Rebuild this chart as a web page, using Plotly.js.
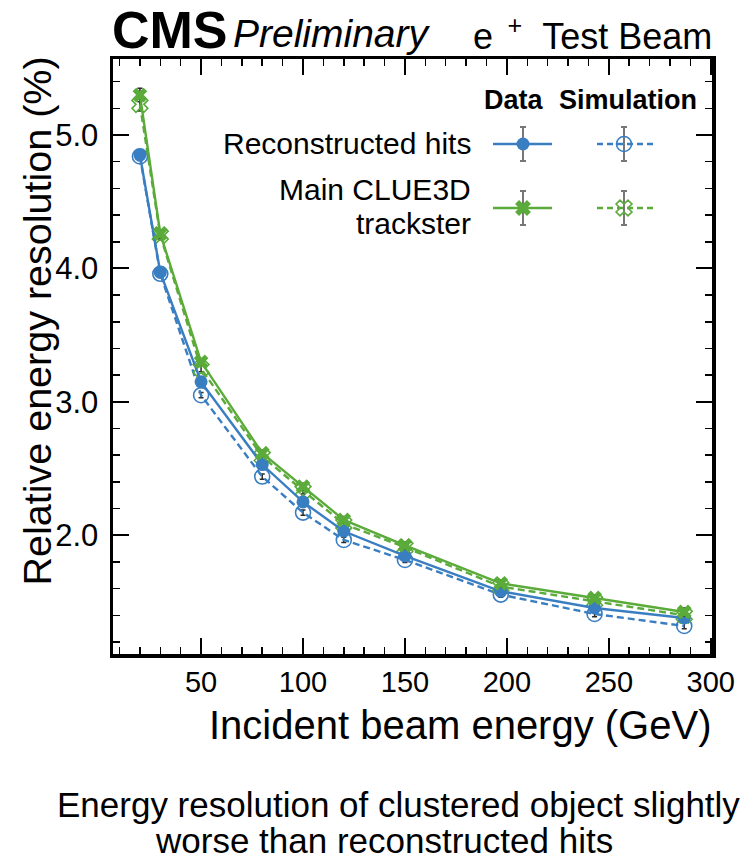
<!DOCTYPE html>
<html>
<head>
<meta charset="utf-8">
<script src="https://cdn.plot.ly/plotly-3.0.1.min.js"></script>
<style>
  html, body { margin: 0; padding: 0; background: #ffffff; }
  #chart { width: 744px; height: 860px; }
</style>
</head>
<body>
<div id="chart"></div>
<script>
// ---- data ----
const energies = [20, 30, 50, 80, 100, 120, 150, 197, 243, 287];
const recoData    = [4.85, 3.97, 3.15, 2.53, 2.25, 2.03, 1.845, 1.58, 1.455, 1.38];
const recoDataErr = [0.03, 0.025, 0.02, 0.02, 0.02, 0.02, 0.02, 0.02, 0.02, 0.02];
const recoSim     = [4.84, 3.96, 3.05, 2.44, 2.17, 1.965, 1.815, 1.555, 1.41, 1.32];
const recoSimErr  = [0.03, 0.025, 0.02, 0.02, 0.02, 0.02, 0.02, 0.02, 0.02, 0.02];
const clueData    = [5.30, 4.26, 3.30, 2.615, 2.365, 2.115, 1.925, 1.64, 1.53, 1.425];
const clueDataErr = [0.05, 0.03, 0.025, 0.025, 0.025, 0.025, 0.025, 0.025, 0.025, 0.03];
const clueSim     = [5.23, 4.25, 3.25, 2.59, 2.335, 2.085, 1.91, 1.615, 1.505, 1.40];
const clueSimErr  = [0.05, 0.03, 0.025, 0.025, 0.025, 0.025, 0.025, 0.025, 0.025, 0.03];

const seriesLabels = ["Reconstructed hits", "Main CLUE3D", "trackster"];
const columnHeads = ["Data", "Simulation"];
const xTitle = "Incident beam energy (GeV)";
const yTitle = "Relative energy resolution (%)";
const captionLines = ["Energy resolution of clustered object slightly", "worse than reconstructed hits"];

// ---- styles ----
const BLUE = "#3a7ec2";
const GREEN = "#5aab3a";
const ERRC = "#2a2a2a";
const FONT = "Liberation Sans, Arial, Helvetica, sans-serif";

// plot area in pixels
const L = 113, R = 712, T = 59, B = 654;
const px = X => (X - L) / (R - L);
const py = Y => (B - Y) / (B - T);

function errObj(arr, color, th, w) {
  return {type: "data", array: arr, visible: true, color: color, thickness: th, width: w};
}

const traces = [
  {x: energies, y: recoSim, mode: "lines+markers", name: "reco sim",
   line: {color: BLUE, width: 2.4, dash: "7px,4px"},
   marker: {symbol: "circle-open", size: 15, color: BLUE, line: {width: 1.6, color: BLUE}},
   error_y: errObj(recoSimErr, ERRC, 1.5, 2.5)},
  {x: energies, y: clueSim, mode: "lines+markers", name: "clue sim",
   line: {color: GREEN, width: 2.4, dash: "7px,4px"},
   marker: {symbol: "x-open", size: 14, color: GREEN, line: {width: 1.6, color: GREEN}},
   error_y: errObj(clueSimErr, ERRC, 1.5, 2.5)},
  {x: energies, y: recoData, mode: "lines+markers", name: "reco data",
   line: {color: BLUE, width: 2.4},
   marker: {symbol: "circle", size: 13, color: BLUE},
   error_y: errObj(recoDataErr, ERRC, 1.5, 2.5)},
  {x: energies, y: clueData, mode: "lines+markers", name: "clue data",
   line: {color: GREEN, width: 2.4},
   marker: {symbol: "x", size: 13, color: GREEN, line: {width: 0}},
   error_y: errObj(clueDataErr, ERRC, 1.5, 2.5)}
];

// ---- custom legend samples on an overlay axis in pixel units ----
const legRows = [144, 208];
const legCols = [{x0: 493, x1: 552, xm: 523}, {x0: 597, x1: 653, xm: 624}];
const legStyles = [
  [{c: BLUE, sym: "circle", size: 13, dash: "solid"}, {c: BLUE, sym: "circle-open", size: 15, dash: "6px,4px"}],
  [{c: GREEN, sym: "x", size: 14, dash: "solid"}, {c: GREEN, sym: "x-open", size: 14, dash: "6px,4px"}]
];
legRows.forEach((yr, i) => {
  legCols.forEach((col, j) => {
    const s = legStyles[i][j];
    traces.push({x: [col.x0, col.x1], y: [yr, yr], xaxis: "x2", yaxis: "y2", mode: "lines",
      line: {color: s.c, width: 2.4, dash: s.dash}, hoverinfo: "skip", cliponaxis: false});
    traces.push({x: [col.xm], y: [yr], xaxis: "x2", yaxis: "y2", mode: "markers",
      marker: {symbol: s.sym, size: s.size, color: s.c, line: {width: s.sym.endsWith("open") ? 1.6 : 0, color: s.c}},
      error_y: {type: "data", array: [17], visible: true, color: "#777777", thickness: 2, width: 3},
      hoverinfo: "skip", cliponaxis: false});
  });
});

function ann(text, X, Y, xa, ya, size, extra) {
  return Object.assign({text: text, x: px(X), y: py(Y), xref: "paper", yref: "paper",
    xanchor: xa, yanchor: ya, showarrow: false,
    font: {family: FONT, size: size, color: "#000"}}, extra || {});
}

const annotations = [
  ann("<b>CMS</b>", 110, 30, "left", "middle", 52),
  ann("<i>Preliminary</i>", 231, 34, "left", "middle", 39),
  ann("e\u2009\u2009<sup>+</sup>\u00A0\u00A0Test Beam", 714, 34, "right", "middle", 36),
  ann("<b>" + columnHeads[0] + "</b>", 514, 100, "center", "middle", 27),
  ann("<b>" + columnHeads[1] + "</b>", 628, 100, "center", "middle", 27),
  ann(seriesLabels[0], 473, 143, "right", "middle", 30),
  ann(seriesLabels[1], 473, 189, "right", "middle", 30),
  ann(seriesLabels[2], 473, 223, "right", "middle", 30),
  // axis titles (aligned to the axis ends, as in the reference)
  ann(xTitle, 713, 725, "right", "middle", 40),
  ann(yTitle, 36, 55, "center", "top", 39.5, {textangle: -90}),
  ann(captionLines[0], 398, 804, "center", "middle", 35),
  ann(captionLines[1], 384, 840, "center", "middle", 35)
];

const axisCommon = {
  showline: true, linecolor: "#000", linewidth: 3.5, mirror: "allticks",
  ticks: "inside", ticklen: 16, tickwidth: 2, tickcolor: "#000",
  showgrid: false, zeroline: false,
  tickfont: {family: FONT, size: 29, color: "#000"}
};

const layout = {
  width: 744, height: 860,
  margin: {l: L, r: 744 - R, t: T, b: 860 - B},
  paper_bgcolor: "#fff", plot_bgcolor: "#fff",
  showlegend: false,
  font: {family: FONT, color: "#000"},
  xaxis: Object.assign({}, axisCommon, {
    range: [6.8, 300.6], tick0: 0, dtick: 50,
    minor: {dtick: 10, ticks: "inside", ticklen: 7, tickwidth: 1.5, tickcolor: "#000"}
  }),
  yaxis: Object.assign({}, axisCommon, {
    range: [1.11, 5.57], tick0: 0, dtick: 1, tickformat: ".1f",
    tickfont: {family: FONT, size: 31, color: "#000"},
    minor: {dtick: 0.2, ticks: "inside", ticklen: 7, tickwidth: 1.5, tickcolor: "#000"},
    ticklabelstandoff: 5
  }),
  xaxis2: {overlaying: "x", range: [L, R], visible: false, fixedrange: true},
  yaxis2: {overlaying: "y", range: [B, T], visible: false, fixedrange: true},
  annotations: annotations
};

Plotly.newPlot("chart", traces, layout, {displayModeBar: false, staticPlot: true});
</script>
</body>
</html>
